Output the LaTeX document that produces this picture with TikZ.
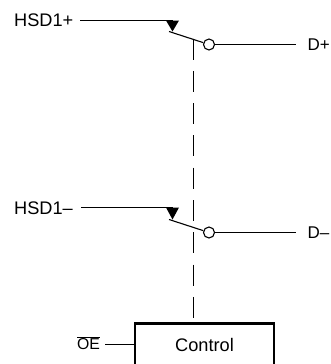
\documentclass[tikz,border=0pt]{standalone}
\usepackage{fontspec}
\setmainfont{Liberation Sans}
\tikzset{
  wire/.style={line width=1.1pt},
  lbl/.style={inner sep=0pt,anchor=base west,font=\fontsize{18.2}{20}\selectfont},
  outlbl/.style={inner sep=0pt,anchor=base west,font=\fontsize{17}{20}\selectfont},
  tri/.style={fill=black,draw=none},
  bub/.style={circle,draw,line width=1.1pt,fill=white,minimum size=11pt,inner sep=0pt},
  ctrl/.style={dash pattern=on 21pt off 11.3pt,line width=1.1pt},
  boxedge/.style={line width=2.2pt,line cap=rect}
}
\begin{document}
\begin{tikzpicture}[x=1pt,y=-1pt]
\useasboundingbox (0,0) rectangle (330,364);
% upper switch
\node[lbl] (h1) at (14,27) {HSD1+};
\coordinate (h1e) at (80,20.5);
\coordinate (t1) at (172.5,20.5);
\draw[tri] (166,20.5) -- (179,20.5) -- (172.5,31.5) -- cycle;
\draw[wire] (h1e) -- (t1);
\coordinate (s1) at (169,31.5);
\node[bub] (c1) at (209,44.5) {};
\draw[wire] (s1) -- (c1);
\coordinate (o1) at (296,44.5);
\draw[wire] (c1) -- (o1);
\node[outlbl] (d1) at (307.5,50.5) {D+};
% lower switch
\node[lbl] (h2) at (14,214.5) {HSD1--};
\coordinate (h2e) at (81,207.5);
\coordinate (t2) at (172.5,207.5);
\draw[tri] (166,207.5) -- (179,207.5) -- (172.5,219.5) -- cycle;
\draw[wire] (h2e) -- (t2);
\coordinate (s2) at (169,219.5);
\node[bub] (c2) at (209,232.5) {};
\draw[wire] (s2) -- (c2);
\coordinate (o2) at (296,232.5);
\draw[wire] (c2) -- (o2);
\node[outlbl] (d2) at (307.5,238.7) {D--};
% control
\coordinate (dtop) at (193.5,38.5);
\coordinate (dbot) at (193.5,318.5);
\draw[ctrl] (dtop) -- (dbot);
\draw[boxedge] (135,366) -- (135,323.5) -- (274,323.5) -- (274,366);
\node[inner sep=0pt,font=\fontsize{18.2}{20}\selectfont] (ctl) at (204.5,345) {Control};
\node[lbl,font=\fontsize{15.8}{18}\selectfont] (oe) at (77,349.5) {$\overline{\mbox{OE}}$};
\coordinate (b) at (135,344.5);
\draw[wire] (105,344.5) coordinate (oee) -- (b);
\end{tikzpicture}
\end{document}
